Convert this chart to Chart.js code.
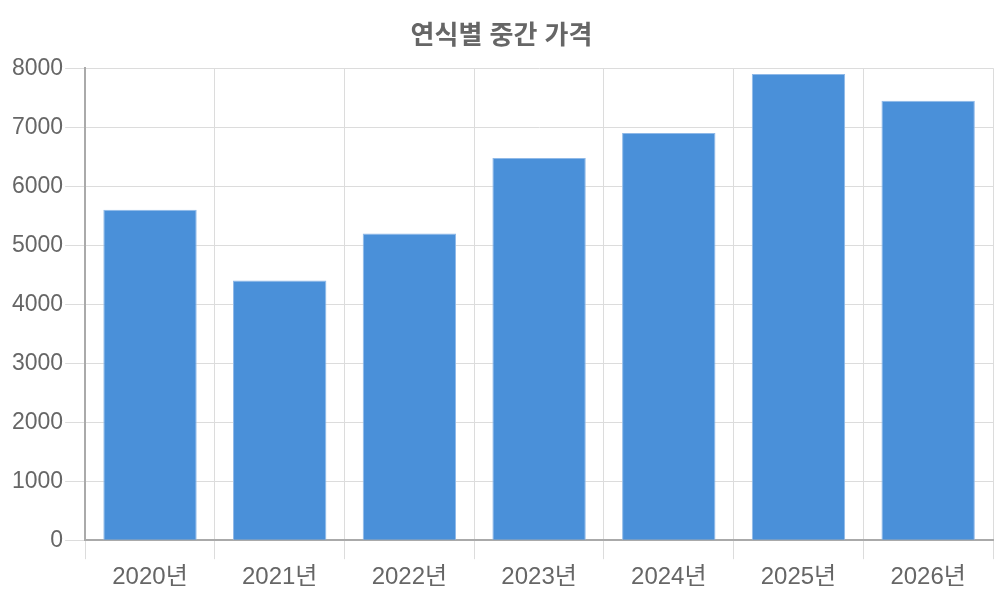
<!DOCTYPE html>
<html>
<head>
<meta charset="utf-8">
<script src="https://cdn.jsdelivr.net/npm/chart.js@4"></script>
<style>
  html, body { margin: 0; padding: 0; background: #fff; }
  #wrap { width: 1000px; height: 600px; }
</style>
</head>
<body>
<div id="wrap"><canvas id="priceChart"></canvas></div>
<script>
const years = ['2020년', '2021년', '2022년', '2023년', '2024년', '2025년', '2026년'];
const medianPrices = [5600, 4400, 5200, 6480, 6900, 7900, 7450];

Chart.defaults.font.family = '"Liberation Sans", "Noto Sans CJK KR", sans-serif';
Chart.defaults.color = '#666';

const ctx = document.getElementById('priceChart').getContext('2d');
const priceChart = new Chart(ctx, {
  type: 'bar',
  data: {
    labels: years,
    datasets: [{
      label: '중간 가격',
      data: medianPrices,
      backgroundColor: '#4a90d9',
      borderColor: '#8fb9e8',
      borderWidth: 1
    }]
  },
  options: {
    responsive: true,
    maintainAspectRatio: false,
    animation: false,
    layout: { padding: { left: 10, right: 7, top: 6, bottom: 4 } },
    plugins: {
      legend: { display: false },
      title: {
        display: true,
        text: '연식별 중간 가격',
        font: { size: 26, weight: 'bold' },
        padding: { top: 15, bottom: 16 }
      }
    },
    scales: {
      y: {
        min: 0,
        max: 8000,
        ticks: { stepSize: 1000, font: { size: 23 }, padding: 2, callback: v => String(v) },
        grid: { color: '#dcdcdc', tickLength: 20 },
        border: { color: '#aaa', width: 2 }
      },
      x: {
        ticks: { font: { size: 24 }, padding: 4 },
        grid: { color: '#dcdcdc', tickLength: 19 },
        border: { color: '#aaa', width: 2 }
      }
    }
  }
});
</script>
</body>
</html>
